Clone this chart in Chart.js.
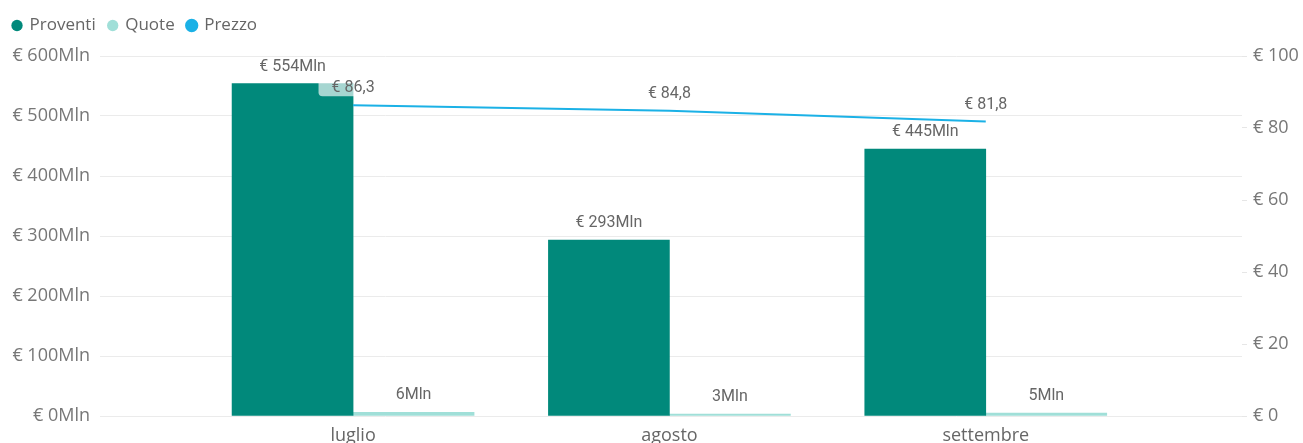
<!DOCTYPE html>
<html>
<head>
<meta charset="utf-8">
<script src="https://cdn.jsdelivr.net/npm/chart.js@4.4.1/dist/chart.umd.min.js"></script>
<style>
  html, body { margin: 0; padding: 0; background: #ffffff; }
  #wrap { width: 1303px; height: 443px; position: relative; }
</style>
</head>
<body>
<div id="wrap"><canvas id="c"></canvas></div>
<script>
// Monthly figures
const categories = ['luglio', 'agosto', 'settembre'];
const proventi = [554, 293, 445];      // € Mln
const quote = [6, 3, 5];               // Mln
const prezzo = [86.3, 84.8, 81.8];     // €
const leftTicks = [0, 100, 200, 300, 400, 500, 600];
const rightTicks = [0, 20, 40, 60, 80, 100];

const COL_PROVENTI = '#01897B';
const COL_QUOTE = '#A0DFD8';
const COL_PREZZO = '#1BB1E6';

const axisFont = { family: '"Open Sans", "Noto Sans", sans-serif', size: 18 };
const legendFont = { family: '"Open Sans", "Noto Sans", sans-serif', size: 17 };
const labelFont = '16px Roboto, "DejaVu Sans", sans-serif';

const fmtMlnEuro = v => '€ ' + v + 'Mln';
const fmtMln = v => v + 'Mln';
const fmtEuro = v => '€ ' + v.toFixed(1).replace('.', ',');

const toPoints = arr => arr.map((v, i) => ({ x: i, y: v }));

// Visible span of the category axis (in category units)
const X_MIN = -0.8;
const X_MAX = 2.81;

// Draws value labels above bars and line points
const valueLabels = {
  id: 'valueLabels',
  afterDatasetsDraw(chart) {
    const ctx = chart.ctx;
    ctx.save();
    ctx.font = labelFont;
    ctx.textAlign = 'center';
    ctx.textBaseline = 'middle';
    chart.data.datasets.forEach((ds, di) => {
      const meta = chart.getDatasetMeta(di);
      if (meta.hidden) return;
      meta.data.forEach((el, i) => {
        const text = ds.labelFormat(ds.data[i].y);
        const x = el.x;
        const y = el.y - 17;
        if (ds.labelBackground) {
          const w = ctx.measureText(text).width + 26;
          const h = 18;
          ctx.fillStyle = ds.labelBackground;
          ctx.beginPath();
          ctx.roundRect(x - w / 2, y - h / 2 - 1, w, h, 4);
          ctx.fill();
        }
        ctx.fillStyle = '#666666';
        ctx.fillText(text, x, y);
      });
    });
    ctx.restore();
  }
};

// Adds breathing room between the legend and the plot
const legendGap = {
  id: 'legendGap',
  beforeInit(chart) {
    const legend = chart.legend;
    if (!legend) return;
    const fit = legend.fit;
    legend.fit = function () {
      fit.call(this);
      this.height += 12;
    };
  }
};

new Chart(document.getElementById('c'), {
  data: {
    datasets: [
      {
        type: 'line',
        label: 'Prezzo',
        data: toPoints(prezzo),
        yAxisID: 'y1',
        borderColor: COL_PREZZO,
        backgroundColor: COL_PREZZO,
        borderWidth: 2,
        pointRadius: 0,
        tension: 0,
        order: 0,
        labelFormat: fmtEuro,
        labelBackground: 'rgba(255,255,255,0.65)'
      },
      {
        type: 'bar',
        label: 'Proventi',
        data: toPoints(proventi),
        yAxisID: 'y',
        backgroundColor: COL_PROVENTI,
        borderWidth: 0,
        barThickness: 121,
        order: 1,
        labelFormat: fmtMlnEuro
      },
      {
        type: 'bar',
        label: 'Quote',
        data: toPoints(quote),
        yAxisID: 'y',
        backgroundColor: COL_QUOTE,
        borderWidth: 0,
        barThickness: 121,
        order: 1,
        labelFormat: fmtMln
      }
    ]
  },
  options: {
    responsive: true,
    maintainAspectRatio: false,
    animation: false,
    devicePixelRatio: 1,
    layout: { padding: { top: 4, left: 0, right: 0, bottom: 0 } },
    plugins: {
      tooltip: { enabled: false },
      legend: {
        display: true,
        position: 'top',
        align: 'start',
        labels: {
          usePointStyle: true,
          pointStyle: 'circle',
          boxWidth: 8,
          boxHeight: 8,
          padding: 13,
          color: '#666666',
          font: legendFont,
          sort: (a, b) => ['Proventi', 'Quote', 'Prezzo'].indexOf(a.text) - ['Proventi', 'Quote', 'Prezzo'].indexOf(b.text)
        }
      }
    },
    scales: {
      x: {
        type: 'linear',
        offset: false,
        min: X_MIN,
        max: X_MAX,
        afterBuildTicks: s => {
          s.min = X_MIN;
          s.max = X_MAX;
          s.ticks = categories.map((c, i) => ({ value: i }));
        },
        afterFit: s => { s.height = 27; },
        grid: { display: false, offset: false },
        border: { display: false },
        ticks: {
          callback: v => categories[v],
          color: '#666666',
          font: axisFont,
          padding: 1,
          maxRotation: 0,
          autoSkip: false
        }
      },
      y: {
        position: 'left',
        min: 0,
        max: 600,
        afterBuildTicks: s => { s.ticks = leftTicks.map(v => ({ value: v })); },
        afterFit: s => { s.width = 100; },
        grid: { color: '#EBEBEB', lineWidth: 1, drawTicks: false },
        border: { display: false },
        ticks: {
          callback: v => fmtMlnEuro(v),
          color: '#777777',
          font: axisFont,
          padding: 10
        }
      },
      y1: {
        position: 'right',
        min: 0,
        max: 100,
        afterBuildTicks: s => { s.ticks = rightTicks.map(v => ({ value: v })); },
        afterFit: s => { s.width = 61; },
        grid: { drawOnChartArea: false, drawTicks: true, tickLength: 5, color: '#E6E6E6' },
        border: { display: false },
        ticks: {
          callback: v => '€ ' + v,
          color: '#777777',
          font: axisFont,
          padding: 6
        }
      }
    }
  },
  plugins: [valueLabels, legendGap]
});
</script>
</body>
</html>
